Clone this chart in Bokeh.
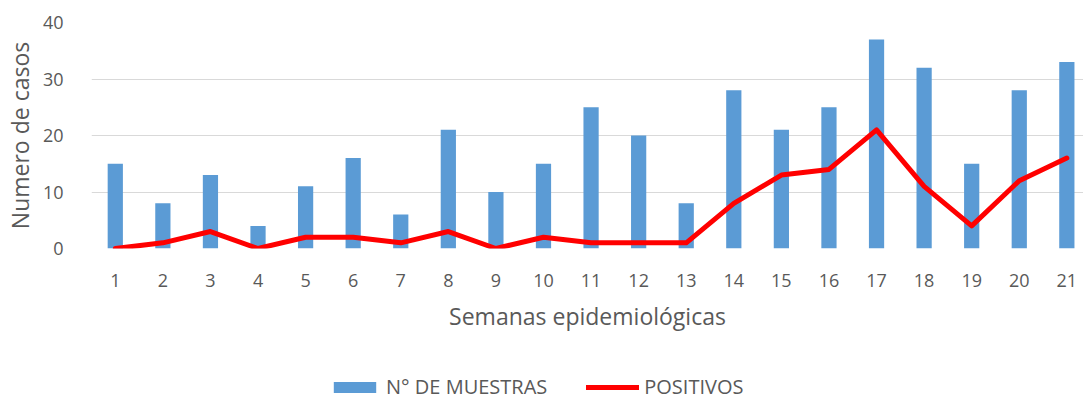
from bokeh.plotting import figure
from bokeh.layouts import column
from bokeh.models import ColumnDataSource, FixedTicker, Legend, LegendItem, Range1d
from bokeh.embed import file_html
from bokeh.resources import INLINE

semanas = list(range(1, 22))
muestras = [15, 8, 13, 4, 11, 16, 6, 21, 10, 15, 25, 20, 8, 28, 21, 25, 37, 32, 15, 28, 33]
positivos = [0, 1, 3, 0, 2, 2, 1, 3, 0, 2, 1, 1, 1, 8, 13, 14, 21, 11, 4, 12, 16]
y_ticks = [0, 10, 20, 30, 40]
series_names = ["N° DE MUESTRAS", "POSITIVOS"]

src = ColumnDataSource(dict(x=semanas, m=muestras, p=positivos))

FONT = "Open Sans"
TXT = "#595959"
BLUE = "#5B9BD5"
RED = "#FF0000"

p = figure(width=1083, height=352, output_backend="svg", toolbar_location=None,
           x_range=Range1d(0.5, 21.35), y_range=Range1d(0, 40),
           min_border_left=91, min_border_right=0, min_border_top=22, min_border_bottom=104)
p.outline_line_color = None
p.background_fill_color = "white"
p.border_fill_color = "white"

p.vbar(x="x", top="m", width=0.32, source=src, fill_color=BLUE, line_color=None)
p.line(x="x", y="p", source=src, line_color=RED, line_width=5,
       line_join="round", line_cap="round")

p.xgrid.grid_line_color = None
p.ygrid.grid_line_color = "#D9D9D9"
p.ygrid.grid_line_width = 1.2

p.xaxis.ticker = FixedTicker(ticks=semanas)
p.yaxis.ticker = FixedTicker(ticks=y_ticks)
for ax in (p.xaxis[0], p.yaxis[0]):
    ax.axis_line_color = None
    ax.major_tick_line_color = None
    ax.minor_tick_line_color = None
    ax.major_label_text_font = FONT
    ax.major_label_text_font_size = "18px"
    ax.major_label_text_color = TXT
    ax.axis_label_text_font = FONT
    ax.axis_label_text_font_size = "23px"
    ax.axis_label_text_font_style = "normal"
    ax.axis_label_text_color = TXT

p.xaxis.axis_label = "Semanas epidemiológicas"
p.yaxis.axis_label = "Numero de casos"
p.xaxis.major_label_standoff = 19
p.xaxis.axis_label_standoff = 10
p.yaxis.major_label_standoff = 22
p.yaxis.axis_label_standoff = 4

# legend strip below the chart (its glyphs are hidden; they only supply legend styles)
lg = figure(width=1083, height=48, output_backend="svg", toolbar_location=None,
            x_axis_location=None, y_axis_location=None,
            x_range=Range1d(0, 1), y_range=Range1d(0, 1),
            min_border_left=0, min_border_right=0, min_border_top=0, min_border_bottom=0)
lg.outline_line_color = None
lg.grid.visible = False
rb = lg.vbar(x="x", top="m", width=0.32, source=src, fill_color=BLUE, line_color=None, visible=False)
rl = lg.line(x="x", y="p", source=src, line_color=RED, line_width=5, line_cap="round", visible=False)

legend = Legend(items=[LegendItem(label=series_names[0], renderers=[rb]),
                       LegendItem(label=series_names[1], renderers=[rl])],
                orientation="horizontal", location=(237, 0))
legend.padding = 0
legend.margin = 0
legend.spacing = 39
legend.glyph_width = 53
legend.glyph_height = 14
legend.label_standoff = 5
legend.label_text_font = FONT
legend.label_text_font_size = "20px"
legend.label_text_color = TXT
legend.border_line_color = None
legend.background_fill_alpha = 0
legend.inactive_fill_alpha = 0
lg.add_layout(legend, "center")

open("out.html", "w").write(file_html(column(p, lg, spacing=0), INLINE))
